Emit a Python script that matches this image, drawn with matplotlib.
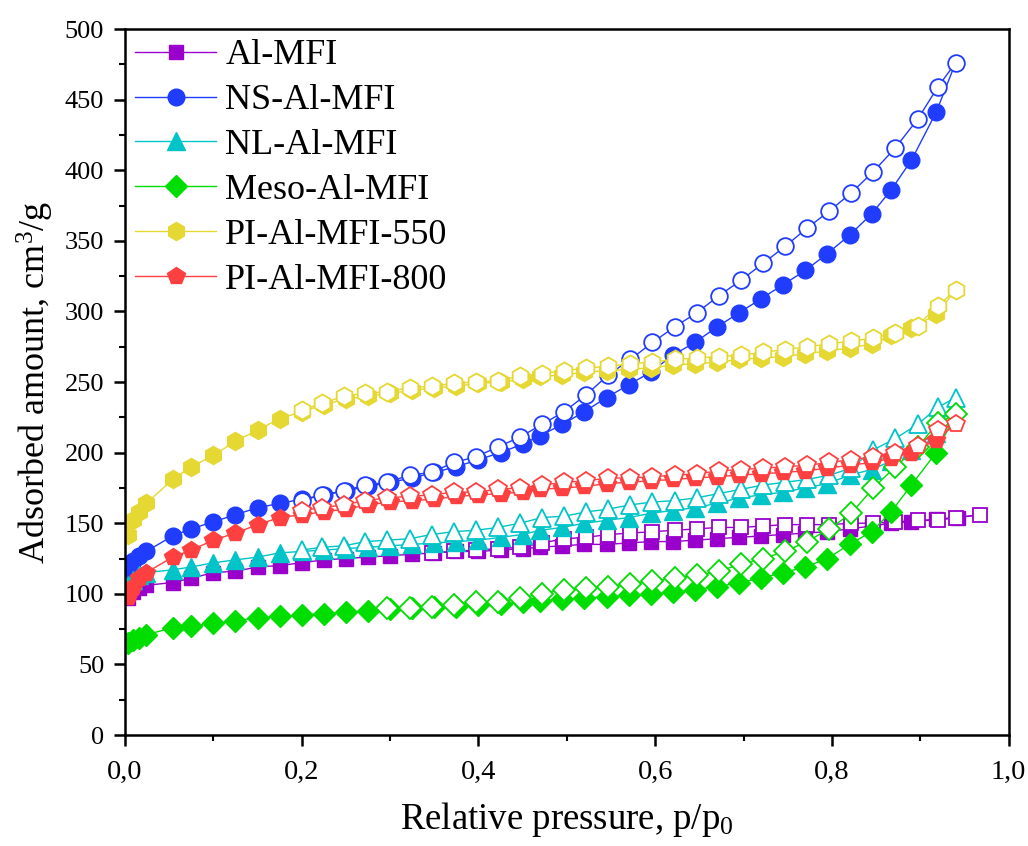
import matplotlib
matplotlib.use("Agg")
import matplotlib.pyplot as plt
from matplotlib.ticker import MultipleLocator, FuncFormatter

plt.rcParams['font.family'] = ['Liberation Serif', 'DejaVu Serif']
plt.rcParams['mathtext.fontset'] = 'custom'
plt.rcParams['mathtext.rm'] = 'Liberation Serif'
plt.rcParams['mathtext.it'] = 'Liberation Serif:italic'

# relative pressure grids (adsorption = filled, desorption = open)
p_ads = [0.003, 0.009, 0.016, 0.024, 0.054, 0.075, 0.1, 0.125, 0.15, 0.175,
         0.2, 0.225, 0.25, 0.275, 0.3, 0.325, 0.35, 0.375, 0.4, 0.425,
         0.45, 0.47, 0.495, 0.52, 0.545, 0.57, 0.595, 0.62, 0.645, 0.67,
         0.695, 0.72, 0.745, 0.77, 0.795, 0.82, 0.845, 0.867, 0.89, 0.918]
p_des = [0.2, 0.223, 0.248, 0.272, 0.297, 0.322, 0.347, 0.372, 0.397, 0.422,
         0.447, 0.472, 0.497, 0.522, 0.547, 0.572, 0.597, 0.622, 0.647, 0.672,
         0.697, 0.722, 0.747, 0.772, 0.797, 0.822, 0.847, 0.872, 0.897, 0.92,
         0.94]
p_ads_al = p_ads + [0.943]
p_des_al = p_des[6:] + [0.968]
p_des_meso = p_des[4:]

al_ads = [97, 101, 104, 106, 108, 111, 115, 116, 119, 120,
          122, 124, 125, 126, 127, 128, 129, 130, 130, 131,
          132, 133, 134, 135, 135, 136, 137, 137, 138, 139,
          140, 141, 142, 143, 144, 146, 148, 150, 151, 153, 154]
al_des = [129, 130, 131, 132, 133, 136, 139, 140, 142, 143,
          144, 145, 146, 147, 147, 148, 149, 149, 149, 150,
          150, 151, 152, 152, 154, 156]

ns_ads = [115, 123, 127, 130, 141, 146, 151, 156, 161, 164,
          167, 170, 173, 176, 179, 182, 186, 190, 195, 200,
          206, 212, 220, 229, 239, 248, 257, 269, 278, 289,
          299, 309, 319, 329, 341, 354, 369, 386, 407, 441]
ns_des = [166, 170, 173, 177, 179, 184, 186, 193, 197, 204,
          211, 220, 229, 241, 255, 266, 278, 289, 299, 311,
          322, 334, 346, 359, 371, 384, 399, 416, 436, 459, 476]

nl_ads = [106, 110, 113, 115, 117, 119, 122, 124, 126, 129,
          130, 131, 132, 133, 134, 135, 136, 137, 138, 140,
          142, 145, 147, 150, 152, 154, 157, 159, 161, 164,
          168, 170, 172, 175, 178, 184, 188, 194, 202, 214]
nl_des = [131, 133, 134, 137, 138, 139, 142, 144, 145, 147,
          150, 154, 155, 158, 160, 163, 165, 166, 168, 171,
          174, 177, 179, 181, 184, 189, 202, 210, 220, 232, 239]

meso_ads = [65, 67, 69, 71, 76, 77, 79, 81, 83, 84,
            85, 86, 87, 88, 89, 90, 91, 91, 92, 93,
            94, 95, 96, 97, 98, 99, 100, 101, 103, 105,
            108, 111, 115, 119, 125, 135, 144, 158, 177, 200]
meso_des = [90, 90, 91, 92, 94, 94, 97, 100, 103, 104,
            105, 107, 109, 111, 113, 116, 121, 125, 130, 137,
            146, 157, 175, 190, 204, 221, 227]

pi550_ads = [142, 152, 158, 164, 181, 190, 198, 208, 216, 224,
             229, 234, 238, 240, 242, 244, 246, 247, 249, 250,
             252, 254, 255, 257, 258, 259, 260, 262, 263, 264,
             266, 267, 268, 270, 272, 274, 277, 283, 288, 298]
pi550_des = [230, 235, 240, 242, 243, 246, 247, 249, 250, 251,
             254, 256, 258, 260, 261, 263, 264, 266, 267, 268,
             269, 271, 273, 275, 277, 279, 281, 285, 290, 304, 315]

pi800_ads = [98, 105, 111, 115, 126, 131, 138, 143, 149, 154,
             156, 158, 160, 163, 165, 166, 167, 169, 170, 171,
             172, 174, 175, 176, 178, 179, 180, 181, 182, 183,
             184, 185, 186, 187, 189, 191, 193, 196, 200, 209]
pi800_des = [159, 161, 163, 166, 168, 169, 170, 172, 172, 174,
             175, 177, 179, 180, 182, 182, 183, 184, 185, 187,
             188, 189, 190, 191, 193, 195, 197, 200, 205, 216, 220]

series = [
    ("Al-MFI", "#9900cc", "s", 10, p_ads_al, al_ads, p_des_al, al_des),
    ("NS-Al-MFI", "#1f3cff", "o", 12, p_ads, ns_ads, p_des, ns_des),
    ("NL-Al-MFI", "#00c4c8", "^", 12.5, p_ads, nl_ads, p_des, nl_des),
    ("Meso-Al-MFI", "#00dd00", "D", 11, p_ads, meso_ads, p_des_meso, meso_des),
    ("PI-Al-MFI-550", "#e6d832", "h", 13, p_ads, pi550_ads, p_des, pi550_des),
    ("PI-Al-MFI-800", "#ff4040", "p", 13, p_ads, pi800_ads, p_des, pi800_des),
]

fig = plt.figure(figsize=(10.28, 8.46), dpi=100)
ax = fig.add_axes([0.1216, 0.1312, 0.8595, 0.8345])

for name, c, m, ms, pa, va, pd, vd in series:
    # adsorption branch ends on the top desorption point
    ax.plot(pa + [pd[-1]], va + [vd[-1]], color=c, lw=1.0, zorder=2)
    ax.plot(pa, va, ls="none", marker=m, ms=ms, color=c, mec=c, mew=1.0,
            zorder=2)
    ax.plot(pd, vd, color=c, lw=1.0, marker=m, ms=ms, mfc="white", mec=c,
            mew=1.3, zorder=2)

handles = [plt.Line2D([], [], color=c, lw=1.0, marker=m, ms=ms, mec=c)
           for name, c, m, ms, *_ in series]
ax.legend(handles, [s[0] for s in series], loc="upper left", frameon=False,
          fontsize=26, handlelength=2.25, handletextpad=0.25, labelspacing=0.32,
          borderaxespad=0.0, borderpad=0.28)

ax.set_xlim(0, 1.0)
ax.set_ylim(0, 500)
ax.xaxis.set_major_locator(MultipleLocator(0.2))
ax.xaxis.set_minor_locator(MultipleLocator(0.1))
ax.yaxis.set_major_locator(MultipleLocator(50))
ax.yaxis.set_minor_locator(MultipleLocator(25))
ax.xaxis.set_major_formatter(FuncFormatter(lambda v, pos: f"{v:.1f}".replace(".", ",")))
ax.tick_params(which="major", direction="out", length=8, width=1.8)
ax.tick_params(which="minor", direction="out", length=4, width=1.5)
ax.tick_params(axis="x", labelsize=20.5, pad=10)
ax.tick_params(axis="y", labelsize=19, pad=7)
for s in ax.spines.values():
    s.set_linewidth(1.8)

ax.set_xlabel("Relative pressure, p/p$_0$", fontsize=26.5, labelpad=11)
ax.set_ylabel("Adsorbed amount, cm$^3$/g", fontsize=26, labelpad=6)

fig.savefig("out.png", dpi=100)
